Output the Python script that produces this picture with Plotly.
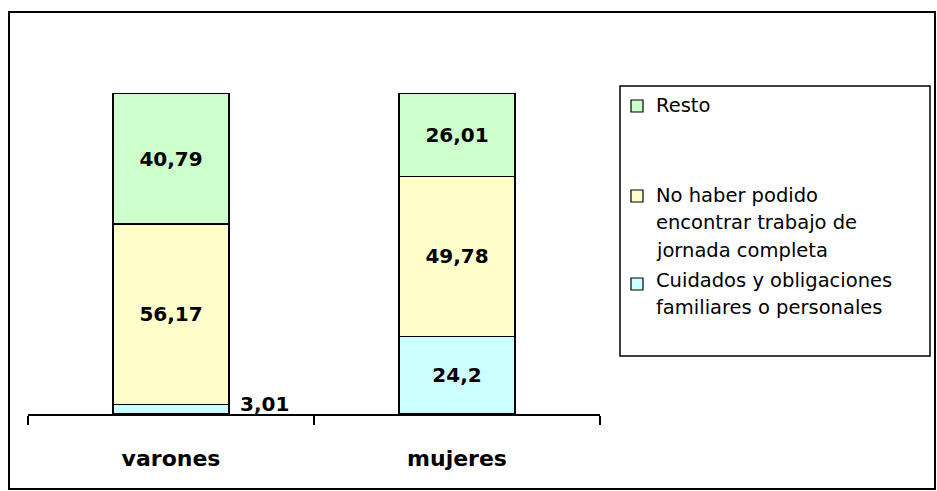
import plotly.graph_objects as go

categories = ["varones", "mujeres"]
series_names = ["Cuidados y obligaciones\nfamiliares o personales",
                "No haber podido\nencontrar trabajo de\njornada completa",
                "Resto"]
cuidados = [3.01, 24.2]
no_haber = [56.17, 49.78]
resto = [40.79, 26.01]
colors = ["#CCFFFF", "#FFFFCC", "#CCFFCC"]

W, H = 937, 491
L, R, T, B = 28, 337, 93, 77
PW, PH = W - L - R, H - T - B


def px(x):
    return (x - L) / PW


def py(y):
    return (H - B - y) / PH


def fmt(v):
    return ("%g" % v).replace(".", ",")


values = [cuidados, no_haber, resto]
fig = go.Figure()
for i, (name, vals) in enumerate(zip(series_names, values)):
    texts = [fmt(v) if v > 8 else "" for v in vals]
    fig.add_trace(go.Bar(
        x=categories, y=vals, name=name.replace("\n", " "),
        marker=dict(color=colors[i], line=dict(color="#000000", width=1.5)),
        text=texts, textposition="inside", insidetextanchor="middle",
        textangle=0, constraintext="none",
        textfont=dict(family="DejaVu Sans", size=20, color="black", weight="bold"),
        width=0.405, showlegend=False, hoverinfo="skip"))

annotations = []
# outside label for small segment
for ci, v in enumerate(cuidados):
    if v <= 8:
        annotations.append(dict(x=categories[ci], y=v, xref="x", yref="y",
                                text=fmt(v), showarrow=False, xanchor="left",
                                yanchor="middle", xshift=67,
                                font=dict(family="DejaVu Sans", size=20,
                                          color="black", weight="bold")))

shapes = [
    dict(type="rect", xref="paper", yref="paper", x0=px(9), x1=px(935),
         y0=py(12), y1=py(489), line=dict(color="black", width=2),
         fillcolor="rgba(0,0,0,0)", layer="below"),
    dict(type="rect", xref="paper", yref="paper", x0=px(620), x1=px(930),
         y0=py(86), y1=py(356), line=dict(color="black", width=1.5),
         fillcolor="white", layer="below"),
]

# legend entries (top to bottom: Resto, No haber, Cuidados)
legend_first_line_y = [105, 195, 280]
legend_square_top = [100, 190, 278]
line_gap = 27.5
for k, idx in enumerate([2, 1, 0]):
    sq = legend_square_top[k]
    shapes.append(dict(type="rect", xref="paper", yref="paper",
                       x0=px(631), x1=px(643), y0=py(sq), y1=py(sq + 12),
                       fillcolor=colors[idx], line=dict(color="black", width=1.2)))
    for j, line in enumerate(series_names[idx].split("\n")):
        annotations.append(dict(x=px(654), y=py(legend_first_line_y[k] + j * line_gap),
                                xref="paper", yref="paper", text=line,
                                showarrow=False, xanchor="left", yanchor="middle",
                                font=dict(family="DejaVu Sans", size=19.5,
                                          color="black")))

fig.update_layout(
    barmode="stack", width=W, height=H,
    margin=dict(l=L, r=R, t=T, b=B, pad=0),
    paper_bgcolor="white", plot_bgcolor="white",
    shapes=shapes, annotations=annotations, showlegend=False,
    xaxis=dict(type="category", range=[-0.5, 1.5], showline=True,
               linecolor="black", linewidth=2, ticks="outside",
               tickson="boundaries", ticklen=9, tickwidth=1.5,
               tickcolor="black", showgrid=False, zeroline=False,
               ticklabelstandoff=24,
               tickfont=dict(family="DejaVu Sans", size=22, color="black",
                             weight="bold")),
    yaxis=dict(range=[0, 100], visible=False, showgrid=False),
)
fig.write_html("out.html", config={"displayModeBar": False},
               post_script="document.body.style.margin='0';"
                           "document.body.style.overflow='hidden';")
